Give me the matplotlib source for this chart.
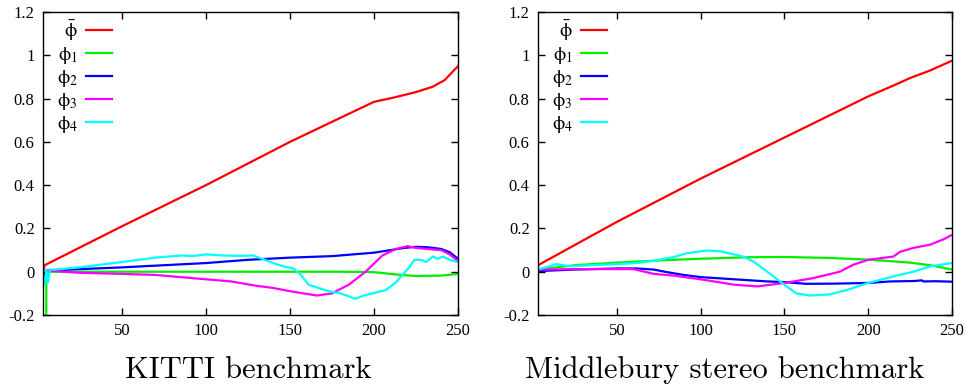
import matplotlib
matplotlib.use("Agg")
import matplotlib.pyplot as plt

plt.rcParams['mathtext.fontset'] = 'stix'
plt.rcParams['axes.unicode_minus'] = False

# --- data ---
labels = [r'$\bar{\mathrm{\phi}}$', r'$\mathrm{\phi}_1$', r'$\mathrm{\phi}_2$',
          r'$\mathrm{\phi}_3$', r'$\mathrm{\phi}_4$']
colors = ['#ff0000', '#00ee00', '#0000ff', '#ff00ff', '#00ffff']
titles = ['KITTI benchmark', 'Middlebury stereo benchmark']
xticks = [50, 100, 150, 200, 250]
yticks = [-0.2, 0, 0.2, 0.4, 0.6, 0.8, 1, 1.2]
ytick_labels = ['-0.2', '0', '0.2', '0.4', '0.6', '0.8', '1', '1.2']

# KITTI
kitti_bar_x = [3, 4, 50, 100, 150, 200, 212, 225, 235, 242, 250]
kitti_bar_y = [0.0, 0.03, 0.21, 0.40, 0.60, 0.785, 0.805, 0.83, 0.855, 0.885, 0.95]
kitti_p1_x = [3, 4.9, 5, 50, 100, 150, 180, 200, 212, 225, 240, 250]
kitti_p1_y = [-0.5, -0.5, 0.0, 0.0, 0.0, 0.0, 0.0, -0.002, -0.012, -0.02, -0.018, -0.01]
kitti_p2_x = [3, 5, 25, 50, 75, 100, 125, 150, 175, 200, 210, 218, 225, 232, 240, 245, 250]
kitti_p2_y = [-0.02, 0.005, 0.012, 0.02, 0.03, 0.04, 0.055, 0.065, 0.072, 0.088, 0.1,
              0.11, 0.115, 0.113, 0.105, 0.09, 0.06]
kitti_p3_x = [3, 4, 6, 25, 50, 70, 85, 100, 115, 130, 140, 150, 158, 166, 175, 185, 195,
              205, 213, 220, 225, 232, 240, 245, 250]
kitti_p3_y = [-0.05, -0.02, 0.005, -0.005, -0.01, -0.015, -0.025, -0.035, -0.045, -0.065,
              -0.075, -0.09, -0.1, -0.11, -0.1, -0.06, 0.0, 0.075, 0.105, 0.118, 0.11,
              0.105, 0.1, 0.08, 0.05]
kitti_p4_x = [3, 4, 5, 6, 7, 10, 25, 50, 70, 85, 92, 100, 110, 121, 128, 134, 140, 146,
              152, 156, 161, 167, 173, 180, 189, 194, 199, 207, 213, 217, 221, 224, 228,
              231, 235, 238, 241, 245, 250]
kitti_p4_y = [-0.02, -0.06, 0.01, -0.05, 0.01, 0.01, 0.02, 0.045, 0.065, 0.075, 0.072,
              0.08, 0.075, 0.073, 0.075, 0.058, 0.04, 0.025, 0.015, -0.01, -0.06, -0.075,
              -0.09, -0.1, -0.125, -0.11, -0.1, -0.085, -0.05, -0.014, 0.02, 0.055, 0.055,
              0.045, 0.07, 0.06, 0.07, 0.055, 0.045]

# Middlebury
midd_bar_x = [3, 50, 100, 150, 200, 215, 225, 237, 250]
midd_bar_y = [0.03, 0.23, 0.43, 0.62, 0.81, 0.86, 0.895, 0.93, 0.975]
midd_p1_x = [3, 25, 50, 75, 100, 130, 150, 175, 200, 225, 237, 250]
midd_p1_y = [0.01, 0.03, 0.042, 0.052, 0.06, 0.067, 0.068, 0.064, 0.056, 0.042, 0.03, 0.01]
midd_p2_x = [3, 25, 50, 62, 72, 80, 90, 100, 120, 140, 150, 163, 180, 200, 213, 227,
             232, 233, 240, 250]
midd_p2_y = [0.003, 0.01, 0.015, 0.015, 0.01, -0.002, -0.015, -0.025, -0.035, -0.045,
             -0.048, -0.056, -0.055, -0.052, -0.045, -0.043, -0.04, -0.045, -0.044, -0.046]
midd_p3_x = [3, 25, 50, 60, 72, 84, 100, 120, 134, 150, 167, 183, 191, 200, 208, 215,
             219, 227, 237, 245, 250]
midd_p3_y = [0.01, 0.012, 0.012, 0.012, -0.01, -0.018, -0.035, -0.06, -0.068, -0.052,
             -0.03, 0.0, 0.032, 0.055, 0.063, 0.07, 0.092, 0.11, 0.125, 0.15, 0.17]
midd_p4_x = [3, 10, 14, 22, 35, 50, 62, 72, 84, 92, 104, 112, 120, 126, 132, 138, 144,
             150, 157, 165, 177, 187, 200, 211, 219, 227, 237, 250]
midd_p4_y = [0.01, 0.025, 0.035, 0.025, 0.03, 0.035, 0.04, 0.05, 0.068, 0.086, 0.098,
             0.094, 0.08, 0.068, 0.045, 0.01, -0.025, -0.06, -0.1, -0.11, -0.105, -0.085,
             -0.052, -0.03, -0.014, 0.0, 0.025, 0.04]

panels = [
    [(kitti_bar_x, kitti_bar_y), (kitti_p1_x, kitti_p1_y), (kitti_p2_x, kitti_p2_y),
     (kitti_p3_x, kitti_p3_y), (kitti_p4_x, kitti_p4_y)],
    [(midd_bar_x, midd_bar_y), (midd_p1_x, midd_p1_y), (midd_p2_x, midd_p2_y),
     (midd_p3_x, midd_p3_y), (midd_p4_x, midd_p4_y)],
]

W, H = 968, 385
fig = plt.figure(figsize=(W / 100, H / 100), dpi=100)

# axes boxes in pixels: left, right, top, bottom
boxes = [(43, 458, 12, 315), (538, 952, 12, 315)]
title_x = [248, 725]

for box, series, title, tx in zip(boxes, panels, titles, title_x):
    l, r, t, b = box
    ax = fig.add_axes([l / W, 1 - b / H, (r - l) / W, (b - t) / H])
    for (xs, ys), c, lab in zip(series, colors, labels):
        ax.plot(xs, ys, color=c, lw=1.6, label=lab)
    ax.set_xlim(3, 250)
    ax.set_ylim(-0.2, 1.2)
    ax.set_xticks(xticks)
    ax.set_xticklabels([str(v) for v in xticks])
    ax.set_yticks(yticks)
    ax.set_yticklabels(ytick_labels)
    ax.tick_params(direction='in', top=True, right=True, length=5, width=1,
                   labelsize=12, pad=6)
    for lab in ax.get_xticklabels() + ax.get_yticklabels():
        lab.set_fontfamily('Liberation Serif')
    for sp in ax.spines.values():
        sp.set_linewidth(1)
    ax.legend(loc='upper left', bbox_to_anchor=(7 / (r - l), 1.0), frameon=False,
              markerfirst=False, fontsize=14, handlelength=1.3, handletextpad=0.45,
              labelspacing=0.1, borderaxespad=0, borderpad=0.34)
    fig.text(tx / W, 1 - 378 / H, title, ha='center', va='baseline',
             fontfamily='cmr10', fontsize=22)

fig.savefig('out.png', dpi=100)
